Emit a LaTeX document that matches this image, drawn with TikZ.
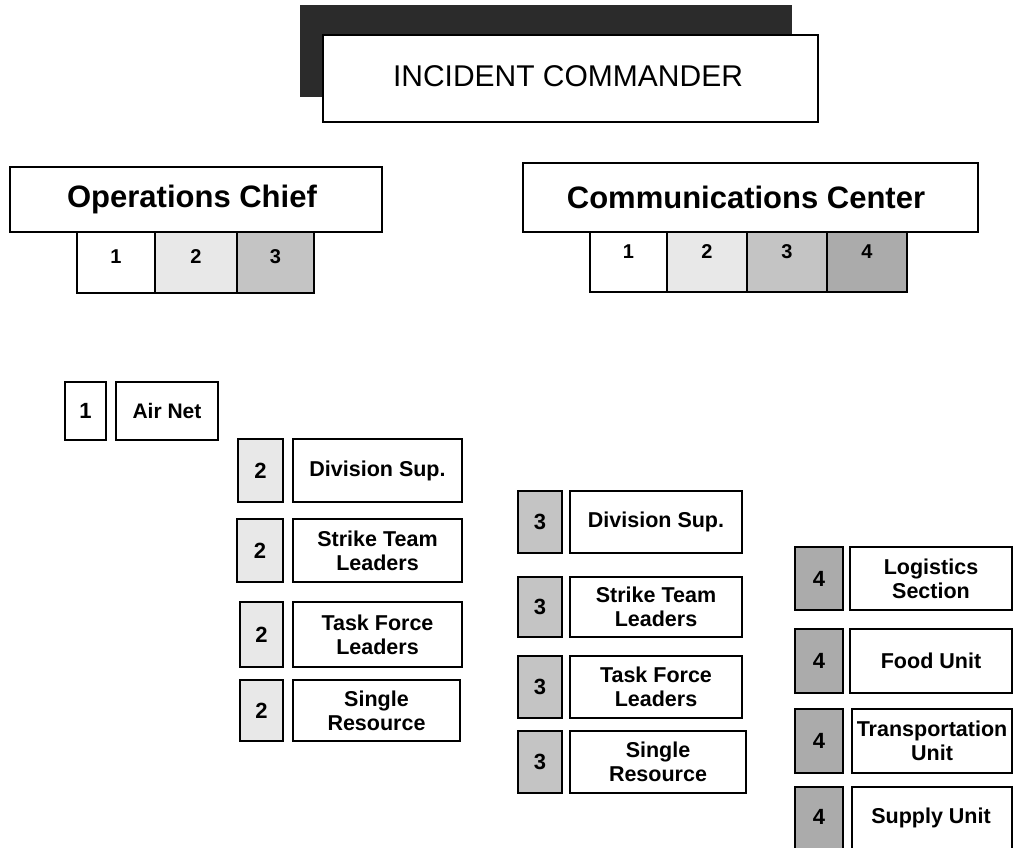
\documentclass[tikz,border=0pt]{standalone}
\usepackage{fontspec}
\setmainfont{Liberation Sans}
\usetikzlibrary{fit,calc}
\newcommand\lblfont{\fontsize{21.5}{24}\selectfont\bfseries}
\newcommand\numfont{\fontsize{22}{24}\selectfont\bfseries}
\newcommand\chanfont{\fontsize{20}{24}\selectfont\bfseries}
\newcommand\headfont{\fontsize{31}{36}\selectfont\bfseries}
\definecolor{lvlone}{gray}{1}
\definecolor{lvltwo}{gray}{0.91}
\definecolor{lvlthree}{gray}{0.77}
\definecolor{lvlfour}{gray}{0.67}
\definecolor{shadowdark}{gray}{0.17}
\begin{document}
\begin{tikzpicture}[x=1pt,y=-1pt,
  frame/.style={draw=black, line width=1.6pt, inner sep=0pt, align=center},
  headbox/.style={frame, fill=white, font=\headfont},
  subbox/.style={frame, font=\chanfont},
  numbox/.style={frame, line width=2.2pt, font=\numfont},
  lblbox/.style={frame, fill=white, font=\lblfont}]
\useasboundingbox (0,0) rectangle (1014,847);
\fill[white] (0,0) rectangle (1014,847);

% incident commander with its dark offset backing
\node[fit={(300,5) (792,97)}, inner sep=0pt, fill=shadowdark] (icshadow) {};
\node[frame, line width=1.3pt, fill=white, fit={(323,35) (818,122)}] (ic) {};
\node[font=\fontsize{30}{34}\selectfont] (ictext) at (568,76) {INCIDENT COMMANDER};

% operations chief and its three channels
\node[headbox, fit={(10,167) (382,232)}] (ops) {};
\node[font=\headfont] (opstext) at (192,199) {Operations Chief};
\node[subbox, fill=lvlone,   fit={(77,232) (155,293)},
      label={[font=\chanfont, yshift=6pt]center:1}] (ops1) {};
\node[subbox, fill=lvltwo,   fit={(155,232) (237,293)},
      label={[font=\chanfont, yshift=6pt]center:2}] (ops2) {};
\node[subbox, fill=lvlthree, fit={(237,232) (314,293)},
      label={[font=\chanfont, yshift=6pt]center:3}] (ops3) {};

% communications center and its four channels
\node[headbox, fit={(523,163) (978,232)}] (comm) {};
\node[font=\headfont] (commtext) at (746,197) {Communications Center};
\node[subbox, fill=lvlone,   fit={(590,232) (667,292)},
      label={[font=\chanfont, yshift=10pt]center:1}] (comm1) {};
\node[subbox, fill=lvltwo,   fit={(667,232) (747,292)},
      label={[font=\chanfont, yshift=10pt]center:2}] (comm2) {};
\node[subbox, fill=lvlthree, fit={(747,232) (827,292)},
      label={[font=\chanfont, yshift=10pt]center:3}] (comm3) {};
\node[subbox, fill=lvlfour,  fit={(827,232) (907,292)},
      label={[font=\chanfont, yshift=10pt]center:4}] (comm4) {};

% channel 1
\node[numbox, fill=lvlone, fit={(65,382) (106,440)}] (n1a) {};
\node[font=\numfont] at (n1a.center) {1};
\node[lblbox, fit={(116,382) (218,440)}] (airnet) {};
\node[font=\fontsize{21}{24}\selectfont\bfseries] at (airnet.center) {Air Net};

% channel 2
\node[numbox, fill=lvltwo, fit={(238,439) (283,502)}] (n2a) {};
\node[font=\numfont] at (n2a.center) {2};
\node[lblbox, fit={(293,439) (462,502)}] (div2) {};
\node[font=\lblfont] at (div2.center) {Division Sup.};

\node[numbox, fill=lvltwo, fit={(237,519) (283,582)}] (n2b) {};
\node[font=\numfont] at (n2b.center) {2};
\node[lblbox, fit={(293,519) (462,582)}] (str2) {};
\node[font=\lblfont, align=center] at (str2.center) {Strike Team\\Leaders};

\node[numbox, fill=lvltwo, fit={(240,602) (283,667)}] (n2c) {};
\node[font=\numfont] at (n2c.center) {2};
\node[lblbox, fit={(293,602) (462,667)}] (tf2) {};
\node[font=\lblfont, align=center] at (tf2.center) {Task Force\\Leaders};

\node[numbox, fill=lvltwo, fit={(240,680) (283,741)}] (n2d) {};
\node[font=\numfont] at (n2d.center) {2};
\node[lblbox, fit={(293,680) (460,741)}] (sr2) {};
\node[font=\lblfont, align=center] at (sr2.center) {Single\\Resource};

% channel 3
\node[numbox, fill=lvlthree, fit={(518,491) (562,553)}] (n3a) {};
\node[font=\numfont] at (n3a.center) {3};
\node[lblbox, fit={(570,491) (742,553)}] (div3) {};
\node[font=\lblfont] at (div3.center) {Division Sup.};

\node[numbox, fill=lvlthree, fit={(518,577) (562,637)}] (n3b) {};
\node[font=\numfont] at (n3b.center) {3};
\node[lblbox, fit={(570,577) (742,637)}] (str3) {};
\node[font=\lblfont, align=center] at (str3.center) {Strike Team\\Leaders};

\node[numbox, fill=lvlthree, fit={(518,656) (562,718)}] (n3c) {};
\node[font=\numfont] at (n3c.center) {3};
\node[lblbox, fit={(570,656) (742,718)}] (tf3) {};
\node[font=\lblfont, align=center] at (tf3.center) {Task Force\\Leaders};

\node[numbox, fill=lvlthree, fit={(518,731) (562,793)}] (n3d) {};
\node[font=\numfont] at (n3d.center) {3};
\node[lblbox, fit={(570,731) (746,793)}] (sr3) {};
\node[font=\lblfont, align=center] at (sr3.center) {Single\\Resource};

% channel 4
\node[numbox, fill=lvlfour, fit={(795,547) (843,610)}] (n4a) {};
\node[font=\numfont] at (n4a.center) {4};
\node[lblbox, fit={(850,547) (1012,610)}] (log4) {};
\node[font=\lblfont, align=center] at (log4.center) {Logistics\\Section};

\node[numbox, fill=lvlfour, fit={(795,629) (843,693)}] (n4b) {};
\node[font=\numfont] at (n4b.center) {4};
\node[lblbox, fit={(850,629) (1012,693)}] (food4) {};
\node[font=\lblfont] at (food4.center) {Food Unit};

\node[numbox, fill=lvlfour, fit={(795,709) (843,773)}] (n4c) {};
\node[font=\numfont] at (n4c.center) {4};
\node[lblbox, fit={(852,709) (1012,773)}] (tr4) {};
\node[font=\lblfont, align=center] at (tr4.center) {Transportation\\Unit};

\node[numbox, fill=lvlfour, fit={(795,787) (843,860)}] (n4d) {};
\node[font=\numfont] at ($(n4d.north)+(0,31)$) {4};
\node[lblbox, fit={(852,787) (1012,860)}] (sup4) {};
\node[font=\lblfont] at (931,818) {Supply Unit};
\end{tikzpicture}
\end{document}
